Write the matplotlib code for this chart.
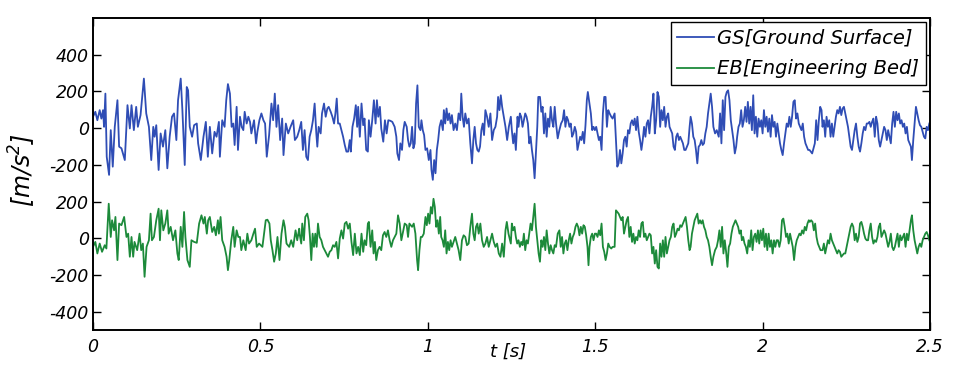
import matplotlib
matplotlib.use('Agg')
import matplotlib.pyplot as plt

# 字体: 原图是 MATLAB 风格的斜体
plt.rcParams['font.family'] = ['DejaVu Sans']
plt.rcParams['font.style'] = 'italic'
plt.rcParams['mathtext.fontset'] = 'custom'
plt.rcParams['mathtext.it'] = 'DejaVu Sans:italic'
plt.rcParams['mathtext.rm'] = 'DejaVu Sans:italic'
plt.rcParams['mathtext.default'] = 'it'

# GS 地表加速度 (时间 s, 数值 m/s^2)
gs_t = [0.000, 0.007, 0.013, 0.020, 0.025, 0.030, 0.033, 0.037, 0.041, 0.048,
        0.053, 0.059, 0.065, 0.073, 0.078, 0.085, 0.095, 0.103, 0.110, 0.115,
        0.122, 0.129, 0.134, 0.142, 0.152, 0.159, 0.167, 0.174, 0.180, 0.184,
        0.189, 0.196, 0.202, 0.209, 0.216, 0.222, 0.229, 0.236, 0.242, 0.249,
        0.254, 0.262, 0.267, 0.274, 0.280, 0.284, 0.289, 0.296, 0.302,
        0.310, 0.314, 0.322, 0.330, 0.337, 0.343, 0.349, 0.356, 0.363, 0.369,
        0.376, 0.379, 0.386, 0.393, 0.398, 0.403, 0.409, 0.414, 0.419, 0.423,
        0.429, 0.433, 0.439, 0.444, 0.449, 0.453, 0.459, 0.464, 0.469, 0.473,
        0.481, 0.487, 0.491, 0.497, 0.503, 0.509, 0.514, 0.519, 0.526, 0.533,
        0.538, 0.543, 0.548, 0.553, 0.559, 0.565, 0.569, 0.576, 0.583, 0.590,
        0.598, 0.603, 0.610, 0.616,
        0.622, 0.627, 0.632, 0.637, 0.642, 0.647, 0.652, 0.657, 0.662, 0.667,
        0.670, 0.674, 0.680, 0.684, 0.690, 0.695, 0.700, 0.704, 0.710, 0.715,
        0.720, 0.724, 0.728, 0.732, 0.737, 0.742, 0.747, 0.752, 0.757, 0.762,
        0.767, 0.770, 0.775, 0.780, 0.785, 0.789, 0.792, 0.797, 0.802, 0.807,
        0.811, 0.816, 0.821, 0.824, 0.829, 0.834, 0.839, 0.844, 0.848, 0.852,
        0.857, 0.861, 0.867, 0.872, 0.877, 0.882, 0.888, 0.894, 0.901, 0.906,
        0.909, 0.914, 0.918, 0.923, 0.927, 0.931,
        0.937, 0.941, 0.945, 0.949, 0.953, 0.957, 0.961, 0.965, 0.969, 0.973,
        0.978, 0.981, 0.985, 0.989, 0.993, 0.998, 1.003, 1.008, 1.011, 1.015,
        1.019, 1.023, 1.027, 1.031, 1.035, 1.040, 1.045, 1.048, 1.052, 1.056,
        1.060, 1.064, 1.068, 1.072, 1.077, 1.082, 1.087, 1.092, 1.097, 1.100,
        1.104, 1.108, 1.112, 1.117, 1.122, 1.127, 1.132, 1.136, 1.140, 1.144,
        1.148, 1.152, 1.156, 1.160, 1.164, 1.168, 1.172, 1.177, 1.182, 1.187,
        1.192, 1.197, 1.202, 1.207, 1.210, 1.214, 1.218, 1.222, 1.227, 1.232,
        1.237, 1.242,
        1.248, 1.251, 1.255, 1.259, 1.263, 1.268, 1.271, 1.275, 1.279, 1.283,
        1.287, 1.291, 1.295, 1.299, 1.303, 1.307, 1.311, 1.315, 1.319, 1.323,
        1.327, 1.330, 1.335, 1.339, 1.343, 1.347, 1.351, 1.355, 1.359, 1.363,
        1.367, 1.371, 1.375, 1.379, 1.383, 1.388, 1.393, 1.398, 1.403, 1.407,
        1.411, 1.415, 1.419, 1.423, 1.427, 1.431, 1.435, 1.439, 1.443, 1.447,
        1.451, 1.455, 1.459, 1.463, 1.467, 1.471, 1.475, 1.478, 1.483, 1.487,
        1.491, 1.495, 1.499, 1.503, 1.507, 1.511, 1.515, 1.519, 1.523, 1.527,
        1.531, 1.535, 1.539, 1.543, 1.548, 1.552,
        1.558, 1.562, 1.566, 1.570, 1.574, 1.578, 1.582, 1.586, 1.590, 1.594,
        1.598, 1.602, 1.606, 1.610, 1.614, 1.618, 1.622, 1.626, 1.630, 1.634,
        1.638, 1.642, 1.646, 1.650, 1.654, 1.658, 1.662, 1.666, 1.670, 1.674,
        1.678, 1.682, 1.686, 1.690, 1.694, 1.698, 1.702, 1.706, 1.710, 1.714,
        1.718, 1.722, 1.726, 1.730, 1.734, 1.738, 1.742, 1.746, 1.750, 1.754,
        1.758, 1.762, 1.766, 1.770, 1.774, 1.778, 1.782, 1.785, 1.789, 1.793,
        1.797, 1.801, 1.805, 1.809, 1.813, 1.817, 1.821, 1.825, 1.829, 1.833,
        1.837, 1.841, 1.845, 1.849, 1.853, 1.858, 1.863,
        1.869, 1.873, 1.877, 1.881, 1.885, 1.889, 1.893, 1.897, 1.901, 1.905,
        1.909, 1.913, 1.917, 1.921, 1.924, 1.928, 1.932, 1.936, 1.940, 1.944,
        1.948, 1.952, 1.956, 1.960, 1.964, 1.968, 1.972, 1.976, 1.980, 1.984,
        1.988, 1.992, 1.996, 2.000, 2.004, 2.008, 2.012, 2.016, 2.020, 2.024,
        2.028, 2.032, 2.036, 2.040, 2.044, 2.048, 2.052, 2.056, 2.060, 2.064,
        2.068, 2.072, 2.076, 2.080, 2.084, 2.088, 2.092, 2.096, 2.100, 2.104,
        2.108, 2.112, 2.116, 2.120, 2.124, 2.128, 2.132, 2.136, 2.140, 2.144,
        2.148, 2.152, 2.156, 2.160, 2.164, 2.168, 2.172, 2.176,
        2.179, 2.183, 2.187, 2.191, 2.195, 2.199, 2.203, 2.207, 2.211, 2.215,
        2.219, 2.223, 2.227, 2.231, 2.235, 2.239, 2.243, 2.247, 2.251, 2.255,
        2.259, 2.263, 2.267, 2.271, 2.275, 2.279, 2.283, 2.287, 2.291, 2.295,
        2.299, 2.303, 2.307, 2.311, 2.315, 2.319, 2.323, 2.327, 2.331, 2.335,
        2.339, 2.343, 2.347, 2.351, 2.355, 2.359, 2.363, 2.367, 2.371, 2.375,
        2.379, 2.383, 2.387, 2.391, 2.395, 2.399, 2.403, 2.407, 2.411, 2.415,
        2.419, 2.423, 2.427, 2.431, 2.435, 2.439, 2.443, 2.446, 2.450, 2.454,
        2.458, 2.462, 2.466, 2.470, 2.474, 2.478, 2.482, 2.486, 2.490, 2.494,
        2.498]
gs_v = [62, 89, 43, 98, 52, 98, 7, 188, -156, -255,
        -11, -210, 7, 152, -101, -110, -174, 125, -2, 125,
        -11, 116, 7, 71, 270, 80, 7, -174, 7, -47,
        16, -228, -29, -101, -11, -219, -47, 62, 80, -65,
        152, 270, 98, -201, 224, 206, 7, -47, 16,
        25, -83, -174, -47, 34, -156, 7, -138, -20, -47,
        34, -156, 43, 7, 152, 240, 188, 7, 25, -92,
        116, -119, 62, 7, -11, 89, 25, 62, 34, -29,
        43, -83, -20, 43, 80, 43, 25, -156, -38, 134,
        43, 188, 7, 125, -65, 52, -147, 25, -29, 7,
        43, -65, -47, -11,
        34, -119, -11, -156, -174, -47, -11, 43, 134, -29,
        -101, 7, -29, 80, 134, 62, 107, 116, 89, 62,
        25, 80, 161, 25, 25, -11, -47, -92, -128, -128,
        -65, -128, 7, 52, 125, 7, 116, -47, 134, 16,
        52, -119, -128, 43, -47, 43, 152, 25, 152, 62,
        116, -2, -74, 43, -29, 43, 40, 34, 7, -47,
        -138, -174, -83, -119, -11, 34,
        7, -65, -101, -83, 7, -110, -83, 134, 233, 7,
        -11, 43, -11, -38, -119, -110, -174, -119, -228, -282,
        -174, -246, -119, -65, 7, 43, -11, 98, 25, 107,
        43, 80, 25, 71, -11, 25, -11, 80, 43, 188,
        62, 7, 80, 25, 52, -83, -192, -65, 7, -83,
        -119, -128, -101, -11, 25, -38, 98, 62, 7, 80,
        -65, -11, 7, 62, 170, 98, 179, 116, 62, 7,
        -65, 7,
        62, -11, -83, -29, -119, 62, 7, 80, 62, 7,
        43, 80, 62, 25, -83, -47, -119, -174, -273, -138,
        7, 170, 170, 89, 116, -29, 80, -47, 52, 7,
        116, 43, 7, 116, 25, -56, -11, 25, 43, 98,
        7, 62, 43, 7, 25, -47, -29, 7, -20, -119,
        -83, -47, -65, -20, -83, 16, 152, 197, 134, 80,
        -11, 7, -11, 7, -29, -65, -47, -119, 80, 170,
        170, 7, 98, 80, 62, 52,
        80, -65, -210, -192, -119, -192, -138, -65, -47, -101,
        -11, -29, 25, 43, 16, 52, -11, 62, -20, -65,
        -119, -65, 7, -47, 25, 43, -29, 62, 116, 188,
        -29, 43, 197, 170, 7, 98, 43, 116, 7, 62,
        80, 7, -11, -29, -101, -119, -47, -29, -65, -47,
        -65, -83, -119, -119, -101, -83, 7, 62, 25, -47,
        -65, -119, -192, -101, -92, -65, -92, -83, -29, 7,
        80, 134, 188, 116, 7, -29, -11,
        -47, 80, -83, 152, -11, 170, 197, 206, 152, 43,
        -11, -65, -138, -101, -47, 7, 25, 98, 7, 43,
        116, 34, 143, 25, 116, -11, 179, -29, 62, -47,
        52, 7, 43, -29, 98, 7, 62, -20, 52, -47,
        71, 7, 34, -47, 25, -29, -83, -119, -147, -83,
        -29, 25, 7, 62, 7, 62, 143, 152, 52, 80,
        25, 7, -11, 25, -47, -83, -101, -119, -119, -128,
        -138, -110, -83, 43, -65, 43, 116, 98,
        7, 43, -47, 62, 7, 43, -47, 25, -47, 7,
        62, 98, 80, 116, 71, 107, 116, 80, 43, 7,
        -47, -101, -119, -65, -11, 25, -47, -101, -128, -83,
        -29, 7, -11, 25, 25, 34, 7, 34, 52, -47,
        62, 25, -65, -101, -65, -29, 7, -11, -65, -11,
        -47, -83, 25, 89, 7, 89, 43, 80, 25, 43,
        7, 25, -29, 7, -65, -83, -101, -174, -65, 25,
        116, 80, 43, 16, 7, -20, -47, -56, 7, -11,
        25]

# EB 工程基岩加速度
eb_t = [0.000, 0.007, 0.013, 0.020, 0.027, 0.035, 0.040, 0.047, 0.053, 0.057,
        0.063, 0.067, 0.073, 0.078, 0.085, 0.093, 0.100, 0.105, 0.110, 0.115,
        0.120, 0.124, 0.132, 0.139, 0.144, 0.149, 0.154, 0.160, 0.167, 0.172,
        0.176, 0.182, 0.189, 0.196, 0.200, 0.204, 0.210, 0.216, 0.222, 0.226,
        0.232, 0.239, 0.246, 0.252, 0.256, 0.262, 0.267, 0.272, 0.276, 0.282,
        0.289, 0.294, 0.302,
        0.310, 0.317, 0.324, 0.330, 0.334, 0.340, 0.344, 0.349, 0.356, 0.362,
        0.367, 0.373, 0.376, 0.381, 0.386, 0.393, 0.399, 0.403, 0.407, 0.413,
        0.419, 0.423, 0.429, 0.434, 0.439, 0.443, 0.449, 0.456, 0.461, 0.466,
        0.473, 0.479, 0.484, 0.489, 0.496, 0.501, 0.506, 0.511, 0.516, 0.521,
        0.527, 0.531, 0.536, 0.541, 0.546, 0.551, 0.557, 0.563, 0.569, 0.573,
        0.578, 0.586, 0.592, 0.598, 0.605, 0.610, 0.616,
        0.617, 0.622, 0.625, 0.630, 0.634, 0.640, 0.644, 0.648, 0.652, 0.656,
        0.660, 0.664, 0.668, 0.672, 0.677, 0.682, 0.687, 0.692, 0.697, 0.702,
        0.707, 0.712, 0.717, 0.722, 0.727, 0.732, 0.737, 0.742, 0.747, 0.752,
        0.757, 0.762, 0.767, 0.772, 0.777, 0.782, 0.787, 0.792, 0.797, 0.802,
        0.807, 0.811, 0.816, 0.821, 0.824, 0.829, 0.834, 0.838, 0.842, 0.846,
        0.851, 0.856, 0.861, 0.866, 0.871, 0.876, 0.881, 0.886, 0.891, 0.896,
        0.901, 0.906, 0.911, 0.916, 0.921, 0.926, 0.931,
        0.937, 0.941, 0.945, 0.949, 0.953, 0.958, 0.963, 0.968, 0.971, 0.975,
        0.979, 0.983, 0.988, 0.993, 0.997, 1.001, 1.005, 1.009, 1.013, 1.017,
        1.021, 1.025, 1.029, 1.033, 1.037, 1.040, 1.044, 1.048, 1.052, 1.056,
        1.060, 1.064, 1.068, 1.072, 1.077, 1.082, 1.087, 1.092, 1.097, 1.102,
        1.107, 1.112, 1.117, 1.122, 1.127, 1.132, 1.136, 1.140, 1.144, 1.148,
        1.152, 1.157, 1.162, 1.167, 1.172, 1.177, 1.182, 1.187, 1.192, 1.197,
        1.202, 1.207, 1.212, 1.217, 1.222, 1.227, 1.232, 1.236, 1.241,
        1.248, 1.251, 1.255, 1.259, 1.263, 1.267, 1.271, 1.275, 1.279, 1.283,
        1.287, 1.291, 1.295, 1.299, 1.303, 1.307, 1.311, 1.315, 1.319, 1.323,
        1.327, 1.331, 1.335, 1.339, 1.343, 1.347, 1.351, 1.355, 1.359, 1.363,
        1.367, 1.371, 1.375, 1.379, 1.383, 1.388, 1.393, 1.397, 1.401, 1.405,
        1.409, 1.413, 1.417, 1.421, 1.425, 1.429, 1.433, 1.437, 1.441, 1.445,
        1.449, 1.453, 1.457, 1.461, 1.465, 1.469, 1.473, 1.477, 1.480, 1.483,
        1.487, 1.491, 1.495, 1.499, 1.503, 1.507, 1.511, 1.515, 1.519, 1.523,
        1.527, 1.531, 1.535, 1.539, 1.543, 1.548, 1.552,
        1.558, 1.562, 1.566, 1.570, 1.574, 1.578, 1.582, 1.586, 1.590, 1.594,
        1.598, 1.602, 1.606, 1.610, 1.614, 1.618, 1.622, 1.626, 1.630, 1.634,
        1.638, 1.642, 1.646, 1.650, 1.654, 1.658, 1.662, 1.666, 1.670, 1.674,
        1.678, 1.682, 1.686, 1.690, 1.694, 1.698, 1.702, 1.706, 1.710, 1.714,
        1.718, 1.722, 1.726, 1.730, 1.734, 1.738, 1.742, 1.746, 1.750, 1.754,
        1.758, 1.762, 1.766, 1.770, 1.774, 1.778, 1.782, 1.785, 1.789, 1.793,
        1.797, 1.801, 1.805, 1.809, 1.813, 1.817, 1.821, 1.825, 1.829, 1.833,
        1.837, 1.841, 1.845, 1.849, 1.853, 1.858, 1.863,
        1.867, 1.871, 1.875, 1.879, 1.883, 1.887, 1.891, 1.895, 1.899, 1.903,
        1.907, 1.911, 1.915, 1.919, 1.923, 1.927, 1.931, 1.935, 1.938, 1.942,
        1.946, 1.950, 1.954, 1.958, 1.962, 1.966, 1.970, 1.974, 1.978, 1.982,
        1.986, 1.990, 1.994, 1.998, 2.002, 2.006, 2.010, 2.014, 2.018, 2.022,
        2.026, 2.030, 2.034, 2.038, 2.042, 2.046, 2.050, 2.054, 2.058, 2.062,
        2.066, 2.070, 2.074, 2.078, 2.082, 2.086, 2.090, 2.094, 2.098, 2.102,
        2.106, 2.110, 2.114, 2.118, 2.122, 2.126, 2.130, 2.134, 2.138, 2.141,
        2.145, 2.149, 2.153, 2.157, 2.161, 2.165, 2.169, 2.173,
        2.179, 2.183, 2.187, 2.191, 2.195, 2.199, 2.203, 2.207, 2.211, 2.215,
        2.219, 2.223, 2.227, 2.231, 2.235, 2.239, 2.243, 2.247, 2.251, 2.255,
        2.259, 2.263, 2.267, 2.271, 2.275, 2.279, 2.283, 2.287, 2.291, 2.295,
        2.299, 2.303, 2.307, 2.311, 2.315, 2.319, 2.323, 2.327, 2.331, 2.335,
        2.339, 2.343, 2.347, 2.351, 2.355, 2.359, 2.363, 2.367, 2.371, 2.375,
        2.379, 2.383, 2.387, 2.391, 2.395, 2.399, 2.403, 2.407, 2.411, 2.415,
        2.419, 2.423, 2.427, 2.431, 2.435, 2.439, 2.443, 2.446, 2.450, 2.454,
        2.458, 2.462, 2.466, 2.470, 2.474, 2.478, 2.482, 2.486, 2.490, 2.494,
        2.498]
eb_v = [-47, -20, -83, -29, -74, -38, -56, 188, 7, 98,
        43, 116, -119, 80, 71, 116, 7, 25, -101, 7,
        -101, -20, -65, 25, -65, -29, -210, -47, -11, 134,
        -11, 7, 98, 161, -11, 152, 43, 80, 152, 25,
        62, -11, 43, -83, -119, 62, -47, 143, 7, -119,
        -156, -11, -20,
        -25, 80, 125, 80, 116, 25, 98, 116, 34, 62,
        16, 98, 25, 116, -11, -47, -101, -174, -119, -11,
        62, -47, 43, 7, 7, -65, -11, -65, 25, -29,
        -11, 25, 52, -47, -29, -38, -47, 25, 98, 101,
        80, -11, -65, -128, -83, 7, -119, 25, 98, 62,
        -29, -47, -11, -47, 43, -11, 52,
        25, -29, 80, -11, 116, 134, 98, 7, -119, 25,
        -47, 25, -47, 80, 7, -11, -47, -65, -83, -101,
        -74, -65, -38, -47, -20, -110, -2, 43, -2, 80,
        89, 52, 80, -20, -92, 25, -83, -47, -92, 25,
        -74, -11, -38, 80, 89, -47, 43, -83, -20, -119,
        -65, -47, -65, 16, 34, 7, 43, -11, -47, -11,
        7, 25, 125, 80, -11, 34, 80,
        71, 7, 80, 71, 62, 80, 25, -119, -174, -65,
        7, 7, 25, 116, 71, 134, 80, 170, 134, 215,
        170, 62, 98, 25, 116, 7, -11, -47, 43, -83,
        -20, -65, -11, -47, -20, 7, -29, -65, -119, -11,
        16, 7, -38, -29, 62, 134, 25, -11, 62, 80,
        25, 80, -11, -47, -29, 7, -47, -11, 25, -20,
        -47, -29, -83, -101, -29, -101, 43, 89, 25,
        -29, 80, 43, 62, 7, -29, -11, -47, -20, -38,
        25, -65, -11, -29, 25, 80, 43, 116, 188, 62,
        -11, -83, -128, -11, -47, 7, -65, 43, -29, -83,
        -38, -65, -83, -38, -47, 25, 43, -47, 7, -83,
        -29, -11, -65, -11, 25, -29, 7, 25, 62, 80,
        62, 16, 62, 25, 71, 62, 16, -47, -147, -47,
        7, 25, -11, 25, 25, 7, 43, 16, 80, -47,
        -74, -119, -83, -29, -47, -56, -47,
        -47, 152, 143, 134, 116, 98, 116, 25, 62, 98,
        116, 7, 62, -20, 25, -29, 7, -11, 43, 7,
        80, 89, 7, 25, -11, 7, 25, 16, -83, -47,
        -138, -65, -156, -165, -29, -101, -11, -101, 7, -83,
        -47, -11, 7, 62, 80, 7, 25, 52, 43, 71,
        62, 80, 98, 116, 62, -11, -65, -47, 25, 62,
        98, 116, 134, 80, 98, 80, 98, 62, 43, 7,
        -11, -47, -101, -147, -101, -65, -47,
        -11, 43, -47, 62, -83, -11, -74, -156, -47, -29,
        25, 62, 80, 98, 80, 62, 25, 43, -11, 7,
        -29, -47, -83, -11, -47, 43, -65, 7, 25, -20,
        43, -29, 43, -11, 52, -47, 25, -65, 25, -47,
        -11, -83, -11, -47, -11, -11, -47, -11, 98, 107,
        62, 7, 25, -29, 25, -11, -47, -119, -47, -11,
        7, 25, 16, 43, 25, 62, 43, 80, 98, 89,
        98, 89, 43, 80, 7, -29, -47, -65,
        -65, -29, -83, -47, -11, -29, 25, -11, -29, -47,
        -65, -83, -65, -74, -101, -92, -83, -83, -47, -11,
        25, 62, 80, 62, -11, 25, -20, 7, 80, 89,
        62, 25, -2, -11, -11, 43, 80, 7, -29, -11,
        -20, 7, 62, 80, 7, 25, 43, 25, -11, -47,
        -20, 25, -47, -65, -47, -11, 25, -47, 16, -11,
        7, 25, -47, 25, -11, 43, 98, 125, 43, -11,
        -47, -83, -47, -29, -47, -11, 7, 25, 34, 16,
        -11]

gs_offset = 600   # GS 曲线整体上移, 画在同一个坐标轴里
y_ticks = [-400, -200, 0, 200, 400, 600, 800, 1000]
y_ticklabels = ['-400', '-200', '0', '200', '-200', '0', '200', '400']
x_ticks = [0, 0.5, 1, 1.5, 2, 2.5]
x_ticklabels = ['0', '0.5', '1', '1.5', '2', '2.5']

fig = plt.figure(figsize=(9.61, 3.79), dpi=100)
ax = fig.add_axes([93 / 961, 49 / 379, 837 / 961, 312 / 379])

ax.plot(gs_t, [v + gs_offset for v in gs_v], color='#2f4db5', lw=1.3,
        label='GS[Ground Surface]')
ax.plot(eb_t, eb_v, color='#1c8a3a', lw=1.3, label='EB[Engineering Bed]')

ax.set_xlim(0, 2.5)
ax.set_ylim(-500, 1200)
ax.set_xticks(x_ticks)
ax.set_xticklabels(x_ticklabels)
ax.set_yticks(y_ticks)
ax.set_yticklabels(y_ticklabels)
ax.tick_params(direction='in', top=True, right=True, length=6, width=1,
               labelsize=12.5)
ax.tick_params(axis='x', pad=6)
ax.tick_params(axis='y', pad=3)
for sp in ax.spines.values():
    sp.set_linewidth(1.4)

leg = ax.legend(loc='upper right', fontsize=14, fancybox=False, framealpha=1,
                borderaxespad=0.2, handlelength=1.9, handletextpad=0.15,
                borderpad=0.35, labelspacing=0.6)
leg.get_frame().set_edgecolor('black')
leg.get_frame().set_linewidth(1.0)

# 坐标轴标题
fig.text(508 / 961, 1 - 352 / 379, 't [s]', ha='center', va='center', fontsize=13)
fig.text(22 / 961, 1 - 170 / 379, r'[m/s$^2$]', ha='center', va='center',
         rotation=90, fontsize=17)

fig.savefig('out.png', dpi=100)
